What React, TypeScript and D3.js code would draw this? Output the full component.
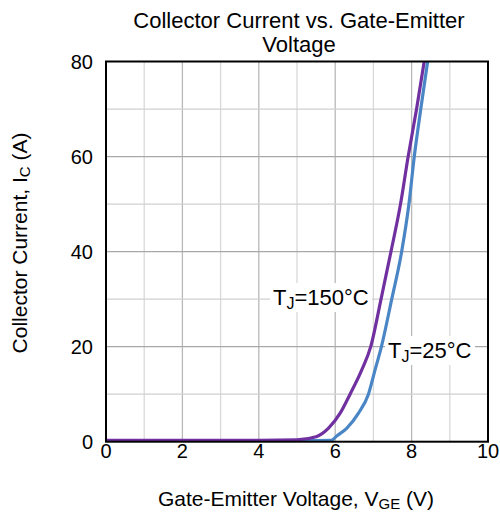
import React from "react";
import * as d3 from "d3";

const vge150 = [0, 1, 2, 3, 4, 5.0, 5.5, 5.82, 6.13, 6.39, 6.69, 6.93, 7.2, 7.46, 7.71, 7.91, 8.13, 8.33];
const ic150 = [0.3, 0.3, 0.3, 0.3, 0.3, 0.4, 1.05, 2.8, 6, 10, 15, 20, 30, 40, 50, 60, 70, 80];
const vge25 = [0, 1, 2, 3, 4, 5, 5.9, 6.04, 6.3, 6.61, 6.87, 7.04, 7.21, 7.48, 7.74, 7.93, 8.07, 8.24, 8.42];
const ic25 = [0.2, 0.2, 0.2, 0.2, 0.2, 0.2, 0.3, 1.2, 2.8, 6, 10, 15, 20, 30, 40, 50, 60, 70, 80];
const xTicks = [0, 2, 4, 6, 8, 10];
const yTicks = [0, 20, 40, 60, 80];
const xGrid = [1, 2, 3, 4, 5, 6, 7, 8, 9];
const yGrid = [10, 20, 30, 40, 50, 60, 70];

const FONT = "'Liberation Sans', Arial, sans-serif";

export default function App() {
  const L = 106, R = 488, T = 61.5, B = 441.7;
  const x = d3.scaleLinear().domain([0, 10]).range([L, R]);
  const y = d3.scaleLinear().domain([0, 80]).range([B, T]);
  const line = d3
    .line<[number, number]>()
    .x((d) => x(d[0]))
    .y((d) => y(d[1]))
    .curve(d3.curveMonotoneX);
  const d150 = line(vge150.map((v, i) => [v, ic150[i]] as [number, number])) || "";
  const d25 = line(vge25.map((v, i) => [v, ic25[i]] as [number, number])) || "";

  return (
    <svg
      width={500}
      height={512}
      style={{ position: "absolute", left: 0, top: 0, background: "#fff" }}
      fontFamily={FONT}
    >
      <defs>
        <clipPath id="plot">
          <rect x={L} y={T - 2} width={R - L} height={B - T + 2} />
        </clipPath>
      </defs>
      <rect x={0} y={0} width={500} height={512} fill="#fff" />
      {xGrid.map((v) => (
        <line
          key={"gx" + v}
          x1={x(v)}
          x2={x(v)}
          y1={T}
          y2={B}
          stroke={v % 2 === 0 ? "#b8b8b8" : "#d9d9d9"}
          strokeWidth={1.3}
        />
      ))}
      {yGrid.map((v) => (
        <line
          key={"gy" + v}
          x1={L}
          x2={R}
          y1={y(v)}
          y2={y(v)}
          stroke={v % 20 === 0 ? "#a8a8a8" : "#d0d0d0"}
          strokeWidth={1.3}
        />
      ))}
      <rect x={270} y={283} width={102} height={29} fill="#fff" />
      <rect x={385} y={336} width={90} height={29} fill="#fff" />
      <g clipPath="url(#plot)">
        <path d={d25} fill="none" stroke="#4a86c6" strokeWidth={3.2} strokeLinejoin="round" />
        <path d={d150} fill="none" stroke="#7030a0" strokeWidth={3.2} strokeLinejoin="round" />
      </g>
      <rect x={L} y={T} width={R - L} height={B - T} fill="none" stroke="#000" strokeWidth={2} />
      {xTicks.map((v) => (
        <text key={"xt" + v} x={x(v)} y={458} textAnchor="middle" fontSize={20} fill="#000">
          {v}
        </text>
      ))}
      {yTicks.map((v) => (
        <text key={"yt" + v} x={93} y={y(v) + 7} textAnchor="end" fontSize={20} fill="#000">
          {v}
        </text>
      ))}
      <text x={299} y={28} textAnchor="middle" fontSize={22} fill="#000">
        Collector Current vs. Gate-Emitter
      </text>
      <text x={299} y={52} textAnchor="middle" fontSize={22} fill="#000">
        Voltage
      </text>
      <text x={296} y={506} textAnchor="middle" fontSize={21} fill="#000">
        Gate-Emitter Voltage, V<tspan fontSize={15} dy={3}>GE</tspan>
        <tspan dy={-3}> (V)</tspan>
      </text>
      <text
        transform="translate(27,243) rotate(-90)"
        textAnchor="middle"
        fontSize={21}
        fill="#000"
      >
        Collector Current, I<tspan fontSize={15} dy={3}>C</tspan>
        <tspan dy={-3}> (A)</tspan>
      </text>
      <text x={273} y={305} fontSize={22} fill="#000">
        T<tspan fontSize={16} dy={4}>J</tspan>
        <tspan dy={-4}>=150°C</tspan>
      </text>
      <text x={388} y={358} fontSize={22} fill="#000">
        T<tspan fontSize={16} dy={4}>J</tspan>
        <tspan dy={-4}>=25°C</tspan>
      </text>
    </svg>
  );
}
